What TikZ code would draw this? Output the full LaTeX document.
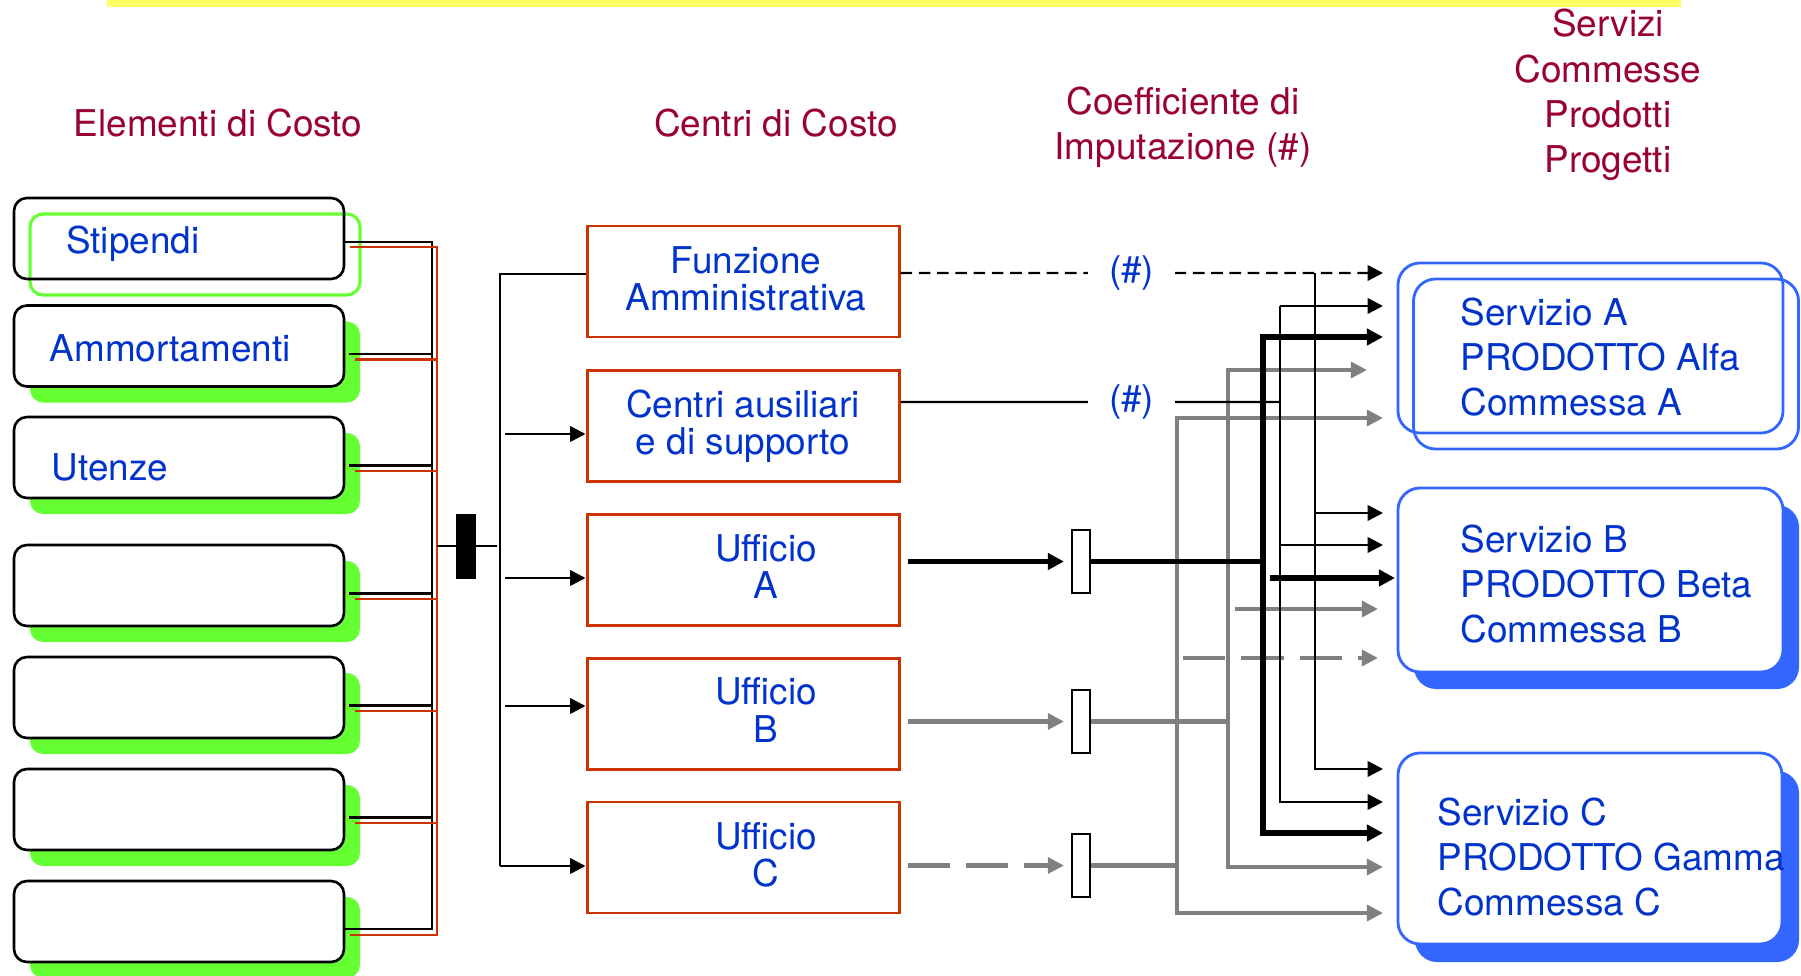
\documentclass[tikz,border=0pt]{standalone}
\usepackage{fontspec}
\setmainfont{TeX Gyre Heros}
\usepackage{tikz}
\usetikzlibrary{arrows.meta,positioning,calc,shadows}
\definecolor{hr}{RGB}{153,0,51}
\definecolor{bt}{RGB}{0,51,204}
\definecolor{rb}{RGB}{204,51,0}
\definecolor{gn}{RGB}{102,255,51}
\definecolor{sb}{RGB}{51,102,255}
\definecolor{gy}{RGB}{128,128,128}
\definecolor{yl}{RGB}{255,255,102}

\tikzset{
  headtxt/.style={text=hr,align=center,inner sep=0pt},
  elembox/.style={draw=black,line width=0.75pt,rounded corners=1.3mm,minimum width=3.3cm,minimum height=0.81cm,inner sep=0pt},
  elemshade/.style={fill=white,drop shadow={shadow xshift=1.6mm,shadow yshift=-1.6mm,fill=gn,draw=none,opacity=1}},
  elemtxt/.style={text=bt,anchor=west,inner sep=0pt},
  ctrbox/.style={draw=rb,line width=0.85pt,fill=white,minimum width=3.12cm,minimum height=1.11cm,inner sep=0pt},
  ctrtxt/.style={text=bt,align=center,inner sep=0pt,font=\fontsize{10.5}{10.6}\selectfont},
  kbox/.style={draw=black,line width=0.6pt,fill=white,minimum width=0.18cm,minimum height=0.63cm,inner sep=0pt},
  svbox/.style={draw=sb,line width=0.8pt,rounded corners=2.2mm,inner sep=0pt},
  svtxt/.style={text=bt,anchor=west,align=left,inner sep=0pt},
  hashlbl/.style={text=bt,fill=white,inner xsep=2.1mm,inner ysep=0.5mm},
  kline/.style={draw=black,line width=0.7pt},
  rline/.style={draw=rb,line width=0.7pt},
  karr/.style={kline,-{Triangle[length=4.4pt,width=4.4pt]}},
  tline/.style={draw=black,line width=1.5pt},
  tarr/.style={tline,-{Triangle[length=4.6pt,width=4.6pt]}},
  gline/.style={draw=gy,line width=1.35pt},
  garr/.style={gline,-{Triangle[length=4.6pt,width=4.5pt]}},
  kdash/.style={dash pattern=on 3.3pt off 1.9pt},
  gdash/.style={dash pattern=on 12pt off 4.6pt}
}

\begin{document}
\begin{tikzpicture}[x=1cm,y=1cm,font=\fontsize{10.5}{12.9}\selectfont]
  \useasboundingbox (0,0) rectangle (18.01,9.75);

  % top bar
  \fill[yl] (1.07,9.68) rectangle (16.81,9.75);

  % column titles
  \node[headtxt] (h1) at (2.18,8.52) {Elementi di Costo};
  \node[headtxt] (h2) at (7.76,8.52) {Centri di Costo};
  \node[headtxt] (h3) at (11.83,8.475) {Coefficiente di\\Imputazione (\#)};
  \node[headtxt] (h4) at (16.08,8.80) {Servizi\\Commesse\\Prodotti\\Progetti};

  % cost elements
  \node[elembox,drop shadow={shadow xshift=1.6mm,shadow yshift=-1.6mm,fill=none,draw=gn,line width=0.9pt,opacity=1}] (e1) at (1.79,7.365) {};
  \foreach \i/\y in {2/6.29,3/5.175,4/3.895,5/2.775,6/1.655,7/0.535}
    \node[elembox,elemshade] (e\i) at (1.79,\y) {};
  \node[elemtxt] (t1) at (0.655,7.31) {Stipendi};
  \node[elemtxt] (t2) at (0.49,6.27) {Ammortamenti};
  \node[elemtxt] (t3) at (0.51,5.08) {Utenze};

  % collecting buses
  \coordinate (kTop) at (4.32,7.33);
  \coordinate (kBot) at (4.32,0.46);
  \coordinate (rTop) at (4.37,7.28);
  \coordinate (rBot) at (4.37,0.40);
  \draw[kline] (e1.east |- kTop) -- (kTop) -- (kBot) -- (e7.east |- kBot);
  \draw[rline] ([xshift=0.5mm]e1.east |- rTop) -- (rTop) -- (rBot) -- ([xshift=0.5mm]e7.east |- rBot);
  \foreach \i in {2,...,6} {
    \draw[kline] ([xshift=0.4mm,yshift=-0.8mm]e\i.east) -- ([yshift=-0.8mm]e\i.east -| kTop);
    \draw[rline] ([xshift=1mm,yshift=-1.35mm]e\i.east) -- ([yshift=-1.35mm]e\i.east -| rTop);
  }

  % cost centres
  \node[ctrbox] (fz) at (7.43,6.935) {};
  \node[ctrbox] (ca) at (7.43,5.49) {};
  \node[ctrbox] (uA) at (7.43,4.05) {};
  \node[ctrbox] (uB) at (7.43,2.61) {};
  \node[ctrbox] (uC) at (7.43,1.175) {};
  \node[ctrtxt] (fzt) at (7.46,6.965) {Funzione\\Amministrativa};
  \node[ctrtxt] (cat) at (7.43,5.49) {Centri ausiliari\\e di supporto};
  \node[ctrtxt] (uAt) at (7.66,4.085) {Ufficio\\A};
  \node[ctrtxt] (uBt) at (7.66,2.65) {Ufficio\\B};
  \node[ctrtxt] (uCt) at (7.66,1.20) {Ufficio\\C};

  % junction and distribution
  \coordinate (dTop) at (5.00,7.01);
  \coordinate (dBot) at (5.00,1.09);
  \node[fill=black,minimum width=0.2cm,minimum height=0.65cm,inner sep=0pt] (blk) at (4.66,4.29) {};
  \draw[kline] (rTop |- blk.center) -- ([xshift=-0.3mm]dTop |- blk.center);
  \draw[kline] ([yshift=0.75mm]fz.west) -| (dBot);
  \draw[karr] (dBot) -- (uC.west |- dBot);
  \foreach \n/\dy in {ca/-0.8,uA/-0.8,uB/0.8}
    \draw[karr] ([xshift=0.5mm,yshift=\dy mm]dBot |- \n.west) -- ([yshift=\dy mm]\n.west);

  % coefficients
  \node[kbox] (kA) at (10.81,4.135) {};
  \node[kbox] (kB) at (10.81,2.535) {};
  \node[kbox] (kC) at (10.81,1.095) {};

  % services
  \node[svbox,minimum width=3.85cm,minimum height=1.70cm,drop shadow={shadow xshift=1.55mm,shadow yshift=-1.6mm,fill=none,draw=sb,line width=0.8pt,opacity=1}] (sA) at (15.905,6.27) {};
  \node[svbox,fill=white,minimum width=3.85cm,minimum height=1.84cm,drop shadow={shadow xshift=1.6mm,shadow yshift=-1.7mm,fill=sb,draw=none,opacity=1}] (sB) at (15.905,3.95) {};
  \node[svbox,fill=white,minimum width=3.84cm,minimum height=1.91cm,drop shadow={shadow xshift=1.7mm,shadow yshift=-1.8mm,fill=sb,draw=none,opacity=1}] (sC) at (15.90,1.265) {};
  \node[svtxt] (sAt) at (14.60,6.18) {Servizio A\\PRODOTTO Alfa\\Commessa A};
  \node[svtxt] (sBt) at (14.60,3.91) {Servizio B\\PRODOTTO Beta\\Commessa B};
  \node[svtxt] (sCt) at (14.37,1.18) {Servizio C\\PRODOTTO Gamma\\Commessa C};

  % arrow ends
  \coordinate (tipS) at (13.83,0);
  \coordinate (tipShort) at (13.67,0);
  \coordinate (tipMid) at (13.78,0);
  \coordinate (tipLong) at (13.95,0);

  % ufficio C (grey dashed)
  \coordinate (gTop) at (11.77,5.57);
  \coordinate (gJ) at (11.77,1.095);
  \coordinate (gMid) at (11.77,3.17);
  \coordinate (gBot) at (11.77,0.62);
  \draw[garr,gdash,shorten <=0.7mm,shorten >=0.7mm] (uC.east |- kC) -- (kC.west);
  \draw[gline] (kC.east) -- (gJ);
  \draw[garr] (gJ) -- (gTop) -- (gTop -| tipS);
  \draw[garr] (gJ) -- (gBot) -- (gBot -| tipS);
  \draw[garr,gdash] ([xshift=0.6mm]gMid) -- (gMid -| tipMid);

  % ufficio B (grey)
  \coordinate (bTop) at (12.28,6.05);
  \coordinate (bJ) at (12.28,2.535);
  \coordinate (bMid) at (12.28,3.66);
  \coordinate (bBot) at (12.28,1.08);
  \draw[garr,shorten <=0.7mm,shorten >=0.7mm] (uB.east |- kB) -- (kB.west);
  \draw[gline] (kB.east) -- (bJ);
  \draw[garr] (bJ) -- (bTop) -- (bTop -| tipShort);
  \draw[garr] (bJ) -- (bBot) -- (bBot -| tipS);
  \draw[garr] ([xshift=0.7mm]bMid) -- (bMid -| tipMid);

  % ufficio A (thick black)
  \coordinate (aTop) at (12.63,6.38);
  \coordinate (aJ) at (12.63,4.135);
  \coordinate (aMid) at (12.63,3.97);
  \coordinate (aBot) at (12.63,1.42);
  \draw[tarr,shorten <=0.7mm,shorten >=0.7mm] (uA.east |- kA) -- (kA.west);
  \draw[tline] (kA.east) -- (aJ);
  \draw[tarr] (aJ) -- (aTop) -- (aTop -| tipS);
  \draw[tarr] (aJ) -- (aBot) -- (aBot -| tipS);
  \draw[tarr] ([xshift=0.7mm]aMid) -- (aMid -| tipLong);

  % centri ausiliari (#)
  \coordinate (cTop) at (12.80,6.69);
  \coordinate (cJ) at (12.80,5.73);
  \coordinate (cMid) at (12.80,4.30);
  \coordinate (cBot) at (12.80,1.73);
  \draw[kline] ([yshift=2.4mm]ca.east) -- node[hashlbl,pos=0.609] {(\#)} (cJ);
  \draw[karr] (cTop) -- (cBot) -- (cBot -| tipS);
  \draw[karr] (cTop) -- (cTop -| tipS);
  \draw[karr] (cMid) -- (cMid -| tipS);

  % funzione amministrativa (#)
  \coordinate (fTop) at (13.15,7.02);
  \coordinate (fMid) at (13.15,4.62);
  \coordinate (fBot) at (13.15,2.06);
  \draw[karr,kdash] ([yshift=0.85mm]fz.east) -- node[hashlbl,pos=0.479] {(\#)} (fTop -| tipS);
  \draw[karr] (fTop) -- (fBot) -- (fBot -| tipS);
  \draw[karr] (fMid) -- (fMid -| tipS);
\end{tikzpicture}
\end{document}
